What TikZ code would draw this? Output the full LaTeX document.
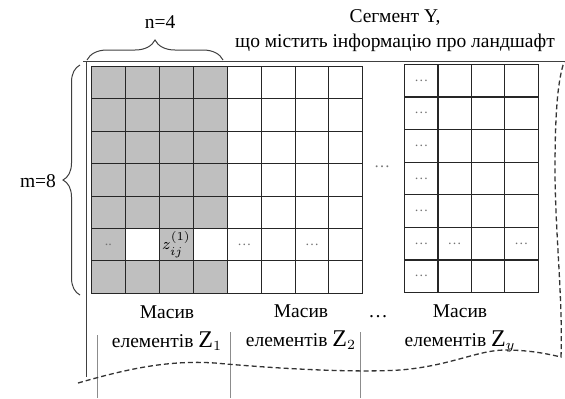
\documentclass[tikz,border=0pt]{standalone}
\usepackage{fontspec}
\setmainfont{Liberation Serif}
\usetikzlibrary{decorations.pathreplacing}

\begin{document}
\begin{tikzpicture}[x=0.5pt,y=-0.5pt,
  font=\fontsize{9.75}{12}\selectfont,
  cell/.style={draw=black!85,line width=0.5pt,minimum width=16.9pt,minimum height=16.2pt,
    inner sep=0pt,anchor=north west},
  dots/.style={font=\fontsize{7}{7}\selectfont,text=black!55,inner sep=0pt},
  label/.style={align=center,font=\fontsize{9.75}{14.5}\selectfont,inner sep=0pt},
  guide/.style={draw=black!45,line width=0.4pt},
  edge/.style={dash pattern=on 2.5pt off 1.5pt,line width=0.65pt,draw=black!80}]
\useasboundingbox (0,0) rectangle (565,398);
{
% first array, grey
\foreach \c in {0,...,3}{
\foreach \r in {0,...,6}{
\def\fc{gray!50}
\ifnum\r=5 \ifodd\c \def\fc{white}\fi\fi
\node[cell,fill=\fc] (a-\c-\r) at (91+\c*34,66+\r*32.4) {};
}
}
% second array
\foreach \c in {0,...,3}{
\foreach \r in {0,...,6}{
\node[cell] (b-\c-\r) at (227+\c*33.8,66+\r*32.4) {};
}
}
% last array
\foreach \c in {0,...,3}{
\foreach \r in {0,...,6}{
\node[cell] (c-\c-\r) at (404+\c*33.3,64+\r*32.6) {};
}
}
\foreach \r in {0,...,6}{
\node[dots] (cd-\r) at (c-0-\r) {\dots};
}
\node[dots] (ad) at (a-0-5) {..};
\node[font=\fontsize{8}{8}\selectfont,inner sep=0pt] (az) at (a-2-5) {$z^{(1)}_{ij}$};
\node[dots] (bd1) at (b-0-5) {\dots};
\node[dots] (bd2) at (b-2-5) {\dots};
\node[dots] (cd1) at (c-1-5) {\dots};
\node[dots] (cd2) at (c-3-5) {\dots};
%
\node[dots,font=\fontsize{8}{8}\selectfont] (gap1) at (382,167) {\dots};
\node (gap2) at (378,317) {\dots};
%
\coordinate (tl) at (86,61);
\coordinate (tr) at (565,61);
\coordinate (bl) at (86,377);
\draw[line width=0.5pt,black!75] (83,61)--(tr);
\draw[line width=0.5pt,black!75] (tl)--(bl);
\draw[line width=0.5pt,black!75,decorate,decoration={brace,amplitude=10pt}] (87,60)--(223,60);
\draw[line width=0.5pt,black!75,decorate,decoration={brace,amplitude=8.5pt}] (80,295)--(80,65);
\node (n) at (160,22) {n=4};
\node (m) at (38,181) {m=8};
\node[label,font=\fontsize{9.75}{12.5}\selectfont] (seg) at (395,31) {Сегмент Y,\\що містить інформацію про ландшафт};
%
\node[label] (z1) at (167,328) {Масив\\елементів {\fontsize{12}{12}\selectfont Z}$_1$};
\node[label] (z2) at (301,327) {Масив\\елементів {\fontsize{12}{12}\selectfont Z}$_2$};
\node[label] (zv) at (460,328) {Масив\\елементів {\fontsize{12}{12}\selectfont Z}$_y$};
%
\draw[guide] (97,335)--(97,398);
\draw[guide] (230,332)--(230,398);
\draw[guide] (360,332)--(360,398);
\draw[edge] (78,383) .. controls (130,368) and (170,360) .. (215,363)
  .. controls (270,368) and (350,373) .. (400,370)
  .. controls (450,366) and (478,350) .. (505,350)
  .. controls (530,350) and (548,354) .. (561,357)
  .. controls (563,300) and (555,230) .. (555,170)
  .. controls (555,110) and (558,80) .. (564,62);
}
\end{tikzpicture}
\end{document}
